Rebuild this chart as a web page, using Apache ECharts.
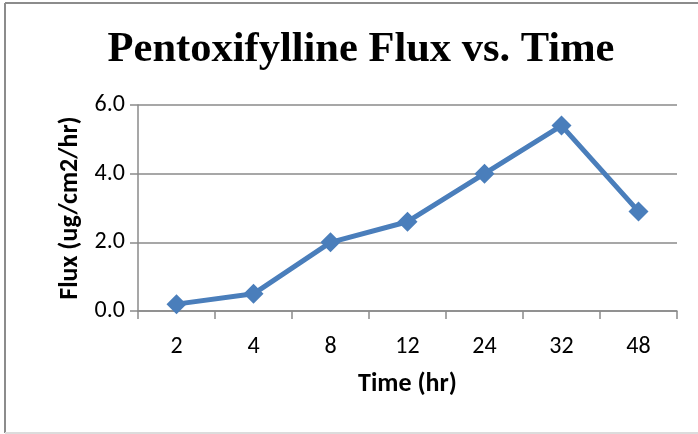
<!DOCTYPE html>
<html>
<head>
<meta charset="utf-8">
<script src="https://cdn.jsdelivr.net/npm/echarts@6/dist/echarts.min.js"></script>
<style>
  html, body { margin: 0; padding: 0; background: #fff; }
  #chart { width: 698px; height: 434px; }
</style>
</head>
<body>
<div id="chart"></div>
<script>
// Sampling times (hr) and measured pentoxifylline flux (ug/cm2/hr)
const timeLabels = ['2', '4', '8', '12', '24', '32', '48'];
const fluxValues = [0.2, 0.5, 2.0, 2.6, 4.0, 5.4, 2.9];
const yTicks = { min: 0, max: 6, interval: 2 };

const chart = echarts.init(document.getElementById('chart'), null, { renderer: 'canvas' });

const labelFont = 'Carlito, Lato, "Open Sans", sans-serif';
const gridGray = '#8a8a8a';

chart.setOption({
  animation: false,
  backgroundColor: '#ffffff',
  title: {
    text: 'Pentoxifylline Flux vs. Time',
    left: 356,
    textAlign: 'center',
    top: 24,
    textStyle: {
      fontFamily: '"Liberation Serif", "Times New Roman", serif',
      fontWeight: 'bold',
      fontSize: 42.5,
      color: '#000'
    }
  },
  graphic: [
    { type: 'line', shape: { x1: 5, y1: 3, x2: 5, y2: 433 }, style: { stroke: '#8c8c8c', lineWidth: 2 } },
    { type: 'line', shape: { x1: 5, y1: 3, x2: 698, y2: 3 }, style: { stroke: '#8c8c8c', lineWidth: 2 } },
    { type: 'line', shape: { x1: 5, y1: 433, x2: 698, y2: 433 }, style: { stroke: '#dcdcdc', lineWidth: 2 } }
  ],
  grid: { left: 138, right: 21, top: 105, bottom: 123, containLabel: false },
  xAxis: {
    type: 'category',
    data: timeLabels,
    boundaryGap: true,
    name: 'Time (hr)',
    nameLocation: 'middle',
    nameGap: 60,
    nameMoveOverlap: false,
    nameTextStyle: { fontFamily: labelFont, fontWeight: 'bold', fontSize: 26, color: '#000' },
    axisLine: { lineStyle: { color: gridGray, width: 1.5 } },
    axisTick: { show: true, length: 8, lineStyle: { color: gridGray, width: 1.5 } },
    axisLabel: { fontFamily: labelFont, fontSize: 24, color: '#000', margin: 24 },
    splitLine: { show: false }
  },
  yAxis: {
    type: 'value',
    min: yTicks.min,
    max: yTicks.max,
    interval: yTicks.interval,
    name: 'Flux (ug/cm2/hr)',
    nameLocation: 'middle',
    nameGap: 55,
    nameMoveOverlap: false,
    nameRotate: 90,
    nameTextStyle: { fontFamily: labelFont, fontWeight: 'bold', fontSize: 26, color: '#000' },
    axisLine: { show: true, lineStyle: { color: gridGray, width: 1.5 } },
    axisTick: { show: true, length: 8, lineStyle: { color: gridGray, width: 1.5 } },
    axisLabel: {
      fontFamily: labelFont, fontSize: 24, color: '#000', margin: 13,
      formatter: v => v.toFixed(1)
    },
    splitLine: { show: true, lineStyle: { color: gridGray, width: 1.5 } }
  },
  series: [{
    type: 'line',
    data: fluxValues,
    symbol: 'diamond',
    symbolSize: 20,
    lineStyle: { color: '#4a7ebb', width: 5 },
    itemStyle: { color: '#4a7ebb' }
  }]
});
</script>
</body>
</html>
